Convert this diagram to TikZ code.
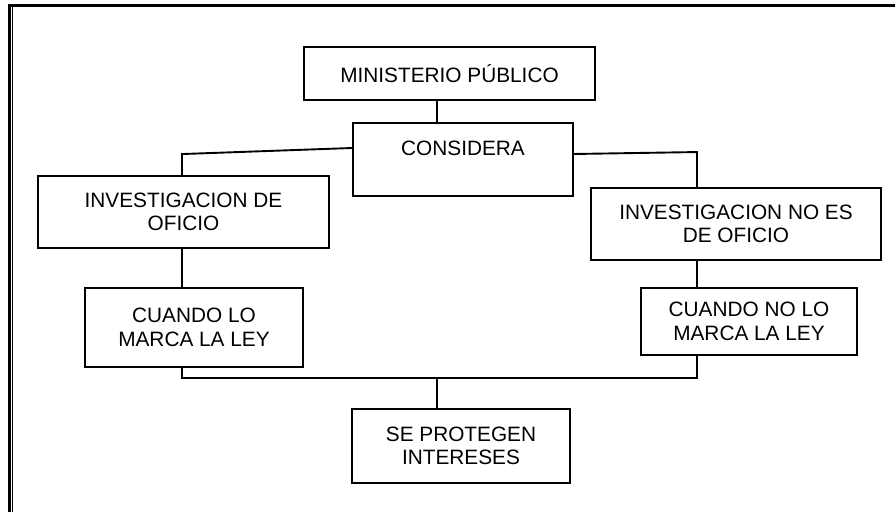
\documentclass[tikz,border=0pt]{standalone}
\usepackage{fontspec}
\setmainfont{Liberation Sans}
\usetikzlibrary{calc}

\begin{document}
\begin{tikzpicture}[
    x=1pt, y=1pt,
    box/.style={draw, line width=1.9pt, align=center, inner sep=0pt,
                font=\fontsize{20.8}{23.5}\selectfont},
    link/.style={line width=1.9pt},
]
\useasboundingbox (0,0) rectangle (895,512);

% marco
\draw[line width=3.5pt] (8,506.5) -- (895,506.5);
\draw[line width=3pt] (9.5,508) -- (9.5,0);
\draw[line width=1.2pt] (12.6,505) -- (12.6,0);

% cajas
\node[box, minimum width=291, minimum height=53] (min) at (449.5,438.5) {MINISTERIO PÚBLICO};
\node[box, minimum width=220, minimum height=73] (cons) at (463,352.5) {CONSIDERA\\~};
\node[box, minimum width=291, minimum height=72] (invof) at (183.5,300) {INVESTIGACION DE\\OFICIO};
\node[box, minimum width=290, minimum height=72] (invno) at (736,288) {INVESTIGACION NO ES\\DE OFICIO};
\node[box, minimum width=218, minimum height=79] (ley) at (194,184.5) {CUANDO LO\\MARCA LA LEY};
\node[box, minimum width=216, minimum height=67] (noley) at (749,190.5) {CUANDO NO LO\\MARCA LA LEY};
\node[box, minimum width=218, minimum height=74] (prot) at (461,66) {SE PROTEGEN\\INTERESES};

% ejes de las lineas
\coordinate (spine) at (437,0);
\coordinate (lcol) at (182,0);
\coordinate (rcol) at (697,0);
\coordinate (bus) at (0,134);

% lineas
\draw[link] (min.south -| spine) -- (cons.north -| spine);
\draw[link] ([yshift=11.5pt]cons.west) -- ([yshift=21pt]invof.north -| lcol) -- (invof.north -| lcol);
\draw[link] ([yshift=5.5pt]cons.east) -- ([yshift=35pt]invno.north -| rcol) -- (invno.north -| rcol);
\draw[link] (invof.south -| lcol) -- (ley.north -| lcol);
\draw[link] (invno.south -| rcol) -- (noley.north -| rcol);
\draw[link] (ley.south -| lcol) |- (bus -| spine) -| (noley.south -| rcol);
\draw[link] (bus -| spine) -- (prot.north -| spine);

\end{tikzpicture}
\end{document}
